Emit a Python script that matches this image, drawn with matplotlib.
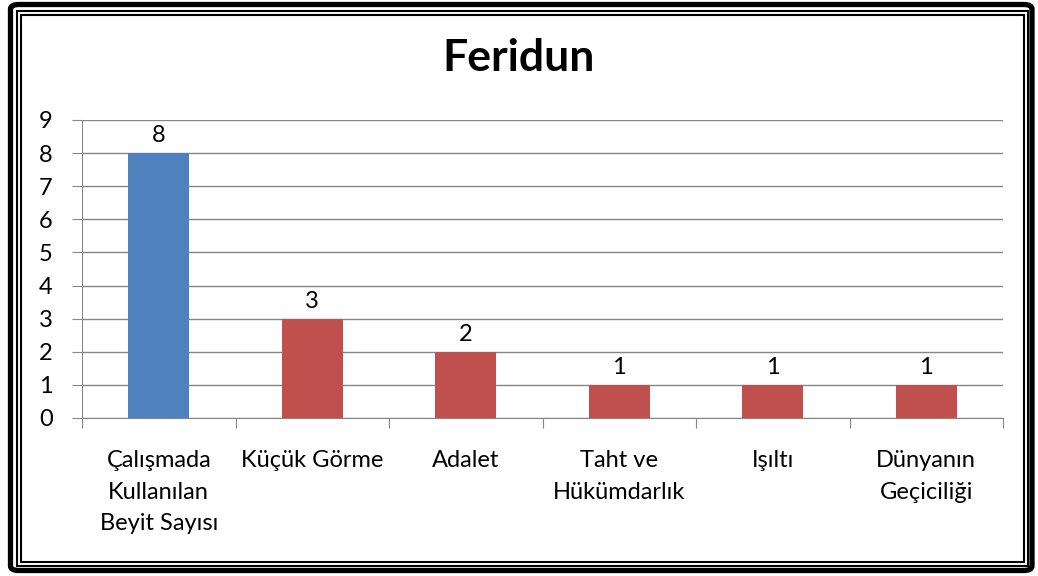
import matplotlib
matplotlib.use('Agg')
import matplotlib.pyplot as plt
from matplotlib.patches import Rectangle, FancyBboxPatch

# chart data
categories = ['Çalışmada\nKullanılan\nBeyit Sayısı', 'Küçük Görme', 'Adalet',
              'Taht ve\nHükümdarlık', 'Işıltı', 'Dünyanın\nGeçiciliği']
values = [8, 3, 2, 1, 1, 1]
bar_colors = ['#4F81BD', '#C0504D', '#C0504D', '#C0504D', '#C0504D', '#C0504D']
title = 'Feridun'

plt.rcParams['font.family'] = ['Lato', 'DejaVu Sans']

W, H = 1038, 576
fig = plt.figure(figsize=(W / 100, H / 100), dpi=100)
ax = fig.add_axes([82 / W, 1 - 418 / H, (1003 - 82) / W, (418 - 120) / H])

x = list(range(len(categories)))
ax.bar(x, values, width=0.4, color=bar_colors, zorder=3)
for xi, v in zip(x, values):
    ax.annotate(str(v), (xi, v), xytext=(0, 5), textcoords='offset points',
                ha='center', va='bottom', fontsize=17)

ax.set_xlim(-0.5, len(categories) - 0.5)
ax.set_ylim(0, 9)
ax.set_yticks(range(10))
ax.tick_params(axis='y', labelsize=17, length=7, color='#868686', pad=14)
ax.yaxis.grid(True, color='#868686', linewidth=1, zorder=0)

# category labels centered, ticks on boundaries
ax.set_xticks([i - 0.5 for i in range(len(categories) + 1)])
ax.set_xticklabels([])
ax.tick_params(axis='x', length=7, color='#868686')
for xi, lab in zip(x, categories):
    ax.text(xi, -0.98, lab, ha='center', va='top', fontsize=17,
            linespacing=1.6, transform=ax.transData)

for s in ['top', 'right']:
    ax.spines[s].set_visible(False)
for s in ['left', 'bottom']:
    ax.spines[s].set_color('#868686')

fig.text(0.5, 1 - 58 / H, title, ha='center', va='center',
         fontsize=32, fontweight='bold')

# triple frame around the chart
def frame(l, t, r, b, lw, rounded=False):
    if rounded:
        p = FancyBboxPatch((l / W, 1 - b / H), (r - l) / W, (b - t) / H,
                           boxstyle='round,pad=0,rounding_size=0.008',
                           transform=fig.transFigure, fill=False,
                           edgecolor='black', linewidth=lw)
    else:
        p = Rectangle((l / W, 1 - b / H), (r - l) / W, (b - t) / H,
                      transform=fig.transFigure, fill=False,
                      edgecolor='black', linewidth=lw)
    fig.patches.append(p)

frame(10.5, 4.5, 1032, 570.5, 3.8, rounded=True)
frame(17, 11, 1028, 566, 1.5)
frame(21, 15, 1024, 562, 1.5)

fig.savefig('out.png', dpi=100)
